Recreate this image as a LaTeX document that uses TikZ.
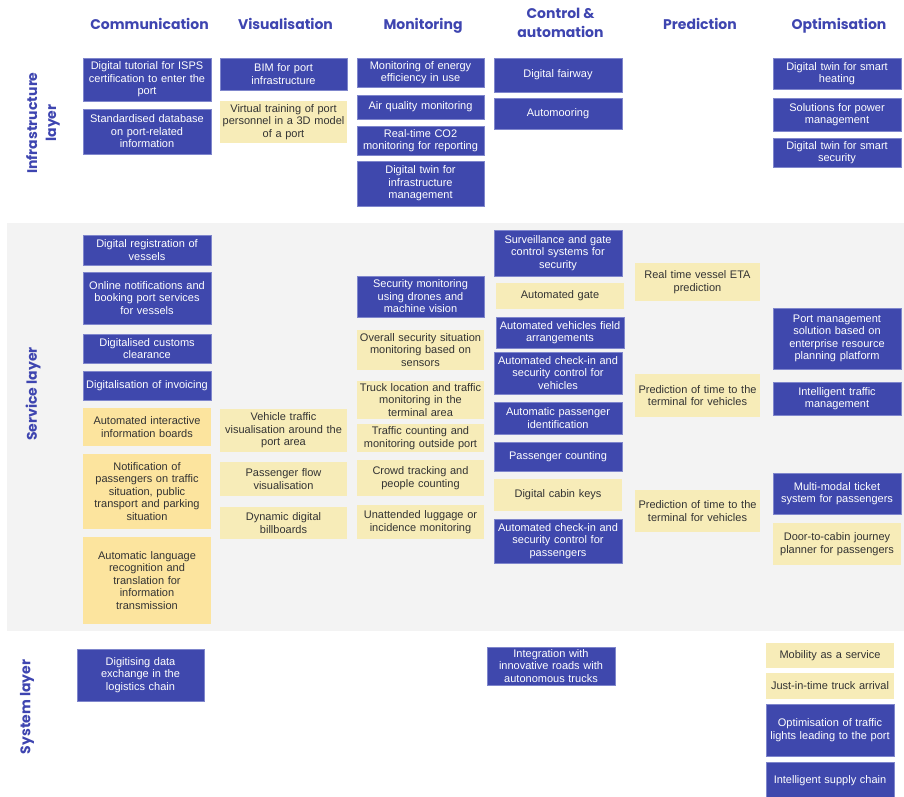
\documentclass[tikz,border=0pt]{standalone}
\usepackage{fontspec}
\setmainfont{Liberation Sans}
\newfontfamily\headfont{Poppins}
\usetikzlibrary{positioning}
\definecolor{boxblue}{HTML}{3F48AD}
\definecolor{boxedge}{HTML}{7F86CC}
\definecolor{boxyellow}{HTML}{F7ECB8}
\definecolor{commyellow}{HTML}{FCE49E}
\definecolor{headblue}{HTML}{3E45B0}
\definecolor{layergray}{HTML}{F3F3F3}
\tikzset{
    item/.style={
        rectangle,
        inner xsep=2pt,
        inner ysep=0pt,
        align=center,
        text width=124pt,
        font=\fontsize{11}{12.5}\selectfont
    },
    bluebox/.style={item, fill=boxblue, draw=boxedge, line width=0.6pt, text=white},
    yelbox/.style={item, fill=boxyellow, text=black!80},
    commbox/.style={item, fill=commyellow, text=black!80},
    colhead/.style={font=\headfont\bfseries\fontsize{14}{19}\selectfont, text=headblue, align=center},
    layerlabel/.style={colhead, rotate=90}
}

\begin{document}
\begin{tikzpicture}[x=1pt, y=-1pt]
  \useasboundingbox (0,0) rectangle (904,797);

  % Service layer background
  \fill[layergray] (7,223) rectangle (904,631);

  % Column headings
  \node[colhead, anchor=base] (hcom) at (149.5,30) {Communication};
  \node[colhead, anchor=base] (hvis) at (285.5,30) {Visualisation};
  \node[colhead, anchor=base] (hmon) at (423,30) {Monitoring};
  \node[colhead] (hctl) at (560.5,23) {Control \&\\automation};
  \node[colhead, anchor=base] (hpre) at (700,30) {Prediction};
  \node[colhead, anchor=base] (hopt) at (839,30) {Optimisation};

  % Layer labels
  \node[layerlabel] (linfra) at (43,123) {Infrastructure\\layer};
  \node[layerlabel] (lserv) at (33,394) {Service layer};
  \node[layerlabel] (lsys) at (27,707) {System layer};

  % Infrastructure layer
  \node[bluebox, minimum height=43pt] (com1) at (147,79.5) {Digital tutorial for ISPS\\certification to enter the\\port};
  \node[bluebox, minimum height=45pt] (com2) at (147,131.5) {Standardised database\\on port-related\\information};

  \node[bluebox, minimum height=32pt, text width=123pt] (vis1) at (283.5,74) {BIM for port\\infrastructure};
  \node[yelbox, minimum height=42pt, text width=123pt] (vis2) at (283.5,122) {Virtual training of port\\personnel in a 3D model\\of a port};

  \node[bluebox, minimum height=29pt, text width=123pt] (mon1) at (420.5,72.5) {Monitoring of energy\\efficiency in use};
  \node[bluebox, minimum height=24pt, text width=123pt] (mon2) at (420.5,107) {Air quality monitoring};
  \node[bluebox, minimum height=29pt, text width=123pt] (mon3) at (420.5,140.5) {Real-time CO2\\monitoring for reporting};
  \node[bluebox, minimum height=45pt, text width=123pt] (mon4) at (420.5,183.5) {Digital twin for\\infrastructure\\management};

  \node[bluebox, minimum height=34pt] (ctl1) at (558,75) {Digital fairway};
  \node[bluebox, minimum height=31pt] (ctl2) at (558,113.5) {Automooring};

  \node[bluebox, minimum height=31pt] (opt1) at (837,73.5) {Digital twin for smart\\heating};
  \node[bluebox, minimum height=33pt] (opt2) at (837,114.5) {Solutions for power\\management};
  \node[bluebox, minimum height=29pt] (opt3) at (837,152.5) {Digital twin for smart\\security};

  % Service layer
  \node[bluebox, minimum height=30pt] (com3) at (147,250) {Digital registration of\\vessels};
  \node[bluebox, minimum height=52pt] (com4) at (147,298) {Online notifications and\\booking port services\\for vessels};
  \node[bluebox, minimum height=29pt] (com5) at (147,348.5) {Digitalised customs\\clearance};
  \node[bluebox, minimum height=29pt] (com6) at (147,385.5) {Digitalisation of invoicing};
  \node[commbox, minimum height=38pt] (com7) at (147,427) {Automated interactive\\information boards};
  \node[commbox, minimum height=75pt] (com8) at (147,491.5) {Notification of\\passengers on traffic\\situation, public\\transport and parking\\situation};
  \node[commbox, minimum height=87pt] (com9) at (147,580.5) {Automatic language\\recognition and\\translation for\\information\\transmission};

  \node[yelbox, minimum height=43pt, text width=123pt] (vis3) at (283.5,430.5) {Vehicle traffic\\visualisation around the\\port area};
  \node[yelbox, minimum height=34pt, text width=123pt] (vis4) at (283.5,479) {Passenger flow\\visualisation};
  \node[yelbox, minimum height=32pt, text width=123pt] (vis5) at (283.5,523) {Dynamic digital\\billboards};

  \node[bluebox, minimum height=41pt, text width=123pt] (mon5) at (420.5,296.5) {Security monitoring\\using drones and\\machine vision};
  \node[yelbox, minimum height=40pt, text width=123pt] (mon6) at (420.5,350) {Overall security situation\\monitoring based on\\sensors};
  \node[yelbox, minimum height=38pt, text width=123pt] (mon7) at (420.5,400) {Truck location and traffic\\monitoring in the\\terminal area};
  \node[yelbox, minimum height=28pt, text width=123pt] (mon8) at (420.5,438) {Traffic counting and\\monitoring outside port};
  \node[yelbox, minimum height=36pt, text width=123pt] (mon9) at (420.5,478) {Crowd tracking and\\people counting};
  \node[yelbox, minimum height=34pt, text width=123pt] (mon10) at (420.5,522) {Unattended luggage or\\incidence monitoring};

  \node[bluebox, minimum height=46pt] (ctl3) at (558,253) {Surveillance and gate\\control systems for\\security};
  \node[yelbox, minimum height=26pt] (ctl4) at (560,296) {Automated gate};
  \node[bluebox, minimum height=31pt] (ctl5) at (560,332.5) {Automated vehicles field\\arrangements};
  \node[bluebox, minimum height=42pt] (ctl6) at (558,373) {Automated check-in and\\security control for\\vehicles};
  \node[bluebox, minimum height=32pt] (ctl7) at (558,418) {Automatic passenger\\identification};
  \node[bluebox, minimum height=29pt] (ctl8) at (558,456.5) {Passenger counting};
  \node[yelbox, minimum height=32pt] (ctl9) at (558,495) {Digital cabin keys};
  \node[bluebox, minimum height=44pt] (ctl10) at (558,541) {Automated check-in and\\security control for\\passengers};

  \node[yelbox, minimum height=38pt, text width=121pt] (pre1) at (697.5,282) {Real time vessel ETA\\prediction};
  \node[yelbox, minimum height=43pt, text width=121pt] (pre2) at (697.5,395.5) {Prediction of time to the\\terminal for vehicles};
  \node[yelbox, minimum height=42pt, text width=121pt] (pre3) at (697.5,511) {Prediction of time to the\\terminal for vehicles};

  \node[bluebox, minimum height=61pt] (opt4) at (837,338.5) {Port management\\solution based on\\enterprise resource\\planning platform};
  \node[bluebox, minimum height=33pt] (opt5) at (837,398.5) {Intelligent traffic\\management};
  \node[bluebox, minimum height=41pt] (opt6) at (837,493.5) {Multi-modal ticket\\system for passengers};
  \node[yelbox, minimum height=42pt] (opt7) at (837,544) {Door-to-cabin journey\\planner for passengers};

  % System layer
  \node[bluebox, minimum height=52pt, text width=123pt] (sys1) at (140.5,675) {Digitising data\\exchange in the\\logistics chain};
  \node[bluebox, minimum height=38pt] (sys2) at (551,666) {Integration with\\innovative roads with\\autonomous trucks};
  \node[yelbox, minimum height=25pt] (sys3) at (830,655.5) {Mobility as a service};
  \node[yelbox, minimum height=26pt] (sys4) at (830,686) {Just-in-time truck arrival};
  \node[bluebox, minimum height=52pt] (sys5) at (830,730) {Optimisation of traffic\\lights leading to the port};
  \node[bluebox, minimum height=38pt] (sys6) at (830,781) {Intelligent supply chain};
\end{tikzpicture}
\end{document}
